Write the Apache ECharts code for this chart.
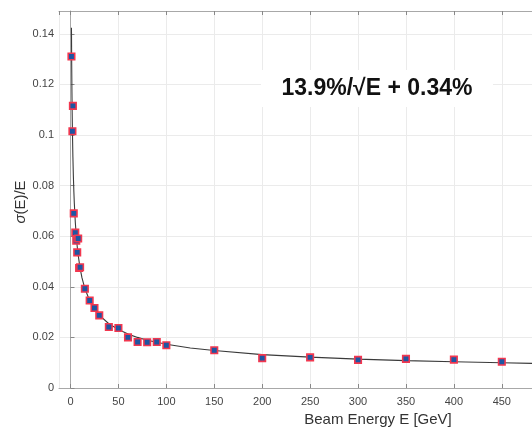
<!DOCTYPE html>
<html>
<head>
<meta charset="utf-8">
<script src="https://cdn.jsdelivr.net/npm/echarts@6/dist/echarts.min.js"></script>
<style>
html,body{margin:0;padding:0;background:#fff;}
#chart{width:532px;height:431px;}
</style>
</head>
<body>
<div id="chart"></div>
<script>
// Measured points: beam energy (GeV) and relative resolution sigma(E)/E
var energies = [1, 2.5, 2, 3.4, 5, 6, 8, 7, 9, 10, 15, 20, 25, 30, 40, 50, 60, 70, 80, 90, 100, 150, 200, 250, 300, 350, 400, 450];
var resolution = [0.131, 0.1115, 0.1015, 0.069, 0.0614, 0.0582, 0.0591, 0.0536, 0.0474, 0.0477, 0.0392, 0.0346, 0.0316, 0.0287, 0.0241, 0.0237, 0.0200, 0.0182, 0.0181, 0.0182, 0.0169, 0.0149, 0.0118, 0.0121, 0.0111, 0.0115, 0.0112, 0.0104];

// Fit curve
var fitE = [1, 1.25, 1.5, 1.75, 2, 2.5, 3, 3.5, 4, 5, 6, 7, 8, 10, 12, 15, 20, 25, 30, 40, 50, 60, 70, 80, 100, 125, 150, 200, 250, 300, 350, 400, 450, 500];
var fitRes = [0.1424, 0.1277, 0.1169, 0.1085, 0.1017, 0.0913, 0.0837, 0.0777, 0.0729, 0.0656, 0.0602, 0.0559, 0.0525, 0.0474, 0.0435, 0.0393, 0.0345, 0.0312, 0.0288, 0.0254, 0.0231, 0.0213, 0.0200, 0.0189, 0.0173, 0.0158, 0.0148, 0.0132, 0.0122, 0.0114, 0.0108, 0.0104, 0.0100, 0.0096];

var annotation = '13.9%/\u221AE + 0.34%';
var xName = 'Beam Energy E [GeV]';

var FONT = '"Liberation Sans", Arial, Helvetica, sans-serif';
var chart = echarts.init(document.getElementById('chart'), null, {renderer: 'canvas'});

var pts = energies.map(function (e, i) { return [e, resolution[i]]; });
var fit = fitE.map(function (e, i) { return [e, fitRes[i]]; });

var AX = '#a8a8a8';
function xAxisBase(pos, labels) {
  return {
    type: 'value', position: pos, min: -12, max: 481.5, splitNumber: 10,
    axisLine: {show: true, onZero: false, lineStyle: {color: AX, width: 1}},
    axisTick: {show: true, inside: true, length: 4, lineStyle: {color: '#888'}},
    axisLabel: {show: labels, color: '#444', fontSize: 11, fontFamily: FONT, margin: 8, showMinLabel: false, showMaxLabel: false},
    splitLine: {show: labels, lineStyle: {color: '#ebebeb', width: 1}}
  };
}

chart.setOption({
  animation: false,
  backgroundColor: '#fff',
  grid: {left: 59, top: 11, right: 0, bottom: 43, show: false},
  xAxis: [xAxisBase('bottom', true), xAxisBase('top', false)],
  yAxis: {
    type: 'value', min: 0, max: 0.149, interval: 0.02,
    axisLine: {show: true, lineStyle: {color: AX, width: 1}},
    axisTick: {show: true, inside: true, length: 4, lineStyle: {color: '#888'}},
    axisLabel: {color: '#444', fontSize: 11, fontFamily: FONT, margin: 5, showMaxLabel: false,
      formatter: function (v) { return String(Math.round(v * 100) / 100); }},
    splitLine: {show: true, lineStyle: {color: '#ebebeb', width: 1}}
  },
  series: [
    {
      type: 'line', data: fit, showSymbol: false, symbol: 'none', silent: true,
      lineStyle: {color: '#3a3a3a', width: 1.1}, z: 2, clip: true
    },
    {
      type: 'scatter', data: pts, symbol: 'rect', symbolSize: 6.5,
      itemStyle: {color: '#1d56a3', borderColor: '#f2374f', borderWidth: 1.6, opacity: 1}, z: 3
    }
  ],
  graphic: [
    {
      type: 'rect', z: 100, silent: true,
      shape: {x: 261, y: 70, width: 232, height: 37},
      style: {fill: '#fff'}
    },
    {
      type: 'text', x: 377, y: 89, z: 101,
      style: {text: annotation, font: 'bold 23px ' + FONT, fill: '#111', align: 'center', verticalAlign: 'middle'}
    },
    {
      type: 'text', x: 378, y: 420, z: 101,
      style: {text: xName, font: '15px ' + FONT, fill: '#333', align: 'center', verticalAlign: 'middle'}
    },
    {
      type: 'text', x: 21, y: 202, rotation: Math.PI / 2, z: 101,
      style: {
        text: '{s|\u03C3}{n|(E)/E}', align: 'center', verticalAlign: 'middle',
        rich: {
          s: {font: 'italic 15px ' + FONT, fill: '#333'},
          n: {font: '15px ' + FONT, fill: '#333'}
        }
      }
    }
  ]
});
</script>
</body>
</html>
